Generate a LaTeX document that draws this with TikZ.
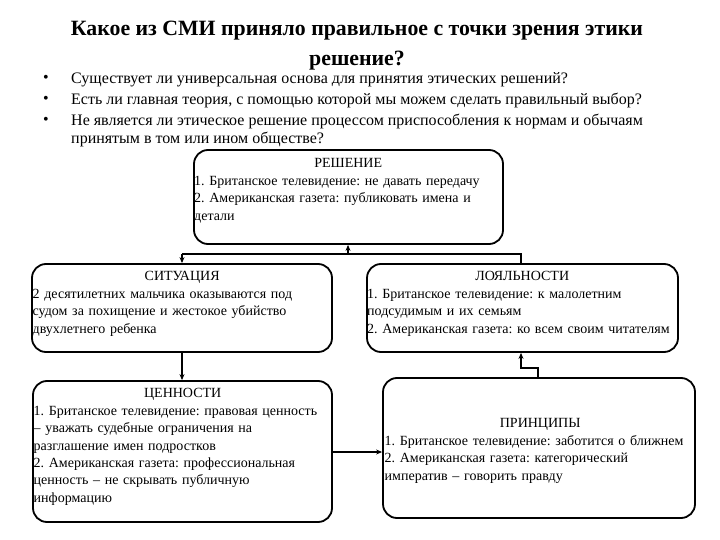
\documentclass[tikz,border=0pt]{standalone}
\usepackage{fontspec}
\setmainfont{Liberation Serif}
\usetikzlibrary{arrows.meta}
\lineskiplimit=-20pt
\tikzset{
  box/.style={draw, line width=1.8pt, rounded corners=14pt, inner sep=0pt},
  btext/.style={anchor=north west, align=left, inner sep=0.5pt, font=\frenchspacing\fontsize{14}{17.4}\selectfont},
  conn/.style={line width=2pt},
  arr/.style={conn, -{Stealth[length=6pt,width=5pt]}},
  bul/.style={anchor=west, inner sep=0pt, font=\frenchspacing\fontsize{16}{18}\selectfont, align=left},
}
\newcommand{\hd}[1]{\makebox[\linewidth][c]{#1}}
\begin{document}
\frenchspacing
\begin{tikzpicture}[x=1pt,y=-1pt]
\useasboundingbox (0,0) rectangle (720,540);
% title
\node[align=center, inner sep=0pt, font=\bfseries\fontsize{21.8}{30}\selectfont] (title) at (357,46)
  {Какое из СМИ приняло правильное с точки зрения этики\\решение?};
% bullets
\node[bul] (d1) at (43,79) {\textbullet};
\node[bul] (d2) at (43,100) {\textbullet};
\node[bul] (d3) at (43,121) {\textbullet};
\node[bul] (b1) at (71,79.5) {Существует ли универсальная основа для принятия этических решений?};
\node[bul] (b2) at (71,100) {Есть ли главная теория, с помощью которой мы можем сделать правильный выбор?};
\node[bul, anchor=north west] (b3) at (71,113.5) {Не является ли этическое решение процессом приспособления к нормам и обычаям\\принятым в том или ином обществе?};
% boxes
\node[box, minimum width=309pt, minimum height=94pt] (resh) at (348.5,197) {};
\node[box, minimum width=300pt, minimum height=88pt] (sit) at (182,308) {};
\node[box, minimum width=311pt, minimum height=88pt] (loy) at (522.5,308) {};
\node[box, minimum width=299pt, minimum height=141pt] (cen) at (182.5,451.5) {};
\node[box, minimum width=312pt, minimum height=140pt] (pri) at (539,448) {};
% texts
\node[btext, text width=308pt] (tresh) at (193.5,158) {\hd{РЕШЕНИЕ}\\
1. Британское телевидение: не давать передачу\\
2. Американская газета: публиковать имена и\\
детали};
\node[btext, text width=299pt] (tsit) at (32,271) {\hd{СИТУАЦИЯ}\\
2 десятилетних мальчика оказываются под\\
судом за похищение и жестокое убийство\\
двухлетнего ребенка};
\node[btext, text width=310pt] (tloy) at (366.5,271) {\hd{ЛОЯЛЬНОСТИ}\\
1. Британское телевидение: к малолетним\\
подсудимым и их семьям\\
2. Американская газета: ко всем своим читателям};
\node[btext, text width=298pt] (tcen) at (33,388) {\hd{ЦЕННОСТИ}\\
1. Британское телевидение: правовая ценность\\
– уважать судебные ограничения на\\
разглашение имен подростков\\
2. Американская газета: профессиональная\\
ценность – не скрывать публичную\\
информацию};
\node[btext, text width=311pt] (tpri) at (384,418) {\hd{ПРИНЦИПЫ}\\
1. Британское телевидение: заботится о ближнем\\
2. Американская газета: категорический\\
императив – говорить правду};
% connectors
\coordinate (jl) at (182,254);
\coordinate (jm) at (348,254);
\coordinate (jr) at (521,254);
\draw[conn] (jl) -- (jr) -- (jr |- loy.north);
\draw[arr] (jm) -- (jm |- resh.south);
\draw[arr] (jl) -- (jl |- sit.north);
\draw[arr] (sit.south) -- (sit.south |- cen.north);
\draw[arr] (cen.east |- 0,452) -- (pri.west |- 0,452);
\coordinate (pt) at (538,368);
\coordinate (lb) at (521,368);
\draw[arr] (pt |- pri.north) -- (pt) -- (lb) -- (lb |- loy.south);
\end{tikzpicture}
\end{document}
